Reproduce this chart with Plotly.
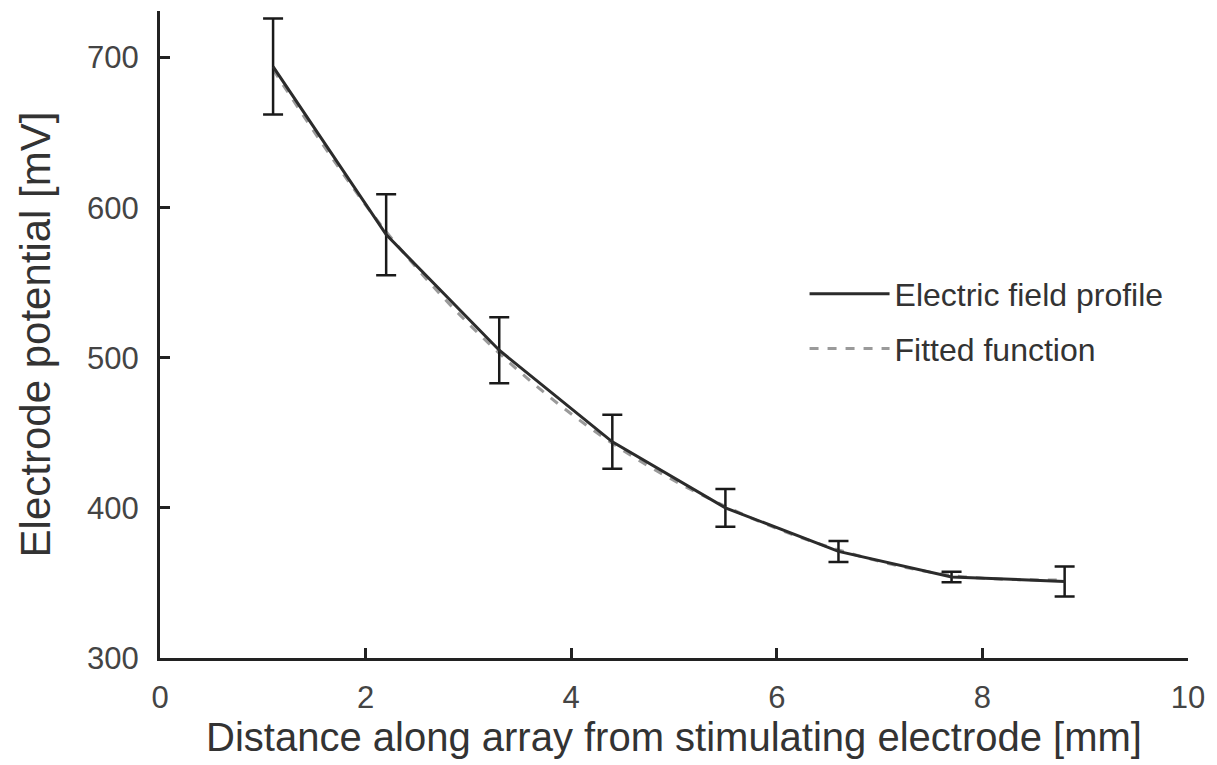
import plotly.graph_objects as go

distance_mm = [1.1, 2.2, 3.3, 4.4, 5.5, 6.6, 7.7, 8.8]
potential_mv = [694, 582, 505, 444, 400, 371, 354, 351]
error_mv = [32, 27, 22, 18, 12.5, 7, 3.5, 10]
fitted_mv = [692, 584, 503, 443, 401, 372, 355, 352]

x_ticks = [0, 2, 4, 6, 8, 10]
y_ticks = [300, 400, 500, 600, 700]

FONT = "Liberation Sans, Arial, sans-serif"

fig = go.Figure()

fig.add_trace(go.Scatter(
    x=distance_mm, y=fitted_mv, mode="lines", name="Fitted function",
    line=dict(color="#9a9a9a", width=3, dash="dash", shape="spline"),
    legendrank=2, legendgroup="b",
))
fig.add_trace(go.Scatter(
    x=distance_mm, y=potential_mv, mode="lines", name="Electric field profile",
    line=dict(color="#2b2b2b", width=3),
    error_y=dict(type="data", array=error_mv, visible=True, color="#1a1a1a",
                 thickness=2.5, width=10),
    legendrank=1, legendgroup="a",
))

fig.update_layout(
    width=1217, height=765,
    margin=dict(l=160, r=29, t=11, b=107),
    paper_bgcolor="white", plot_bgcolor="white",
    font=dict(family=FONT, color="#333333", size=32),
    showlegend=True,
    legend=dict(
        x=0.627, y=0.52, xanchor="left", yanchor="middle",
        font=dict(size=32, color="#333333"),
        bgcolor="rgba(0,0,0,0)", tracegroupgap=10, itemwidth=80,
        traceorder="grouped",
    ),
    xaxis=dict(
        range=[0, 10], tickvals=x_ticks, ticktext=[str(v) for v in x_ticks],
        showline=True, linecolor="#222222", linewidth=3,
        ticks="inside", ticklen=10, tickwidth=2.5, tickcolor="#222222",
        showgrid=False, zeroline=False,
        tickfont=dict(size=31, color="#444444"),
        title=dict(text="Distance along array from stimulating electrode [mm]",
                   font=dict(size=40, color="#333333"), standoff=0),
        ticklabelstandoff=10,
    ),
    yaxis=dict(
        range=[300, 731], tickvals=y_ticks, ticktext=[str(v) for v in y_ticks],
        showline=True, linecolor="#222222", linewidth=3,
        ticks="inside", ticklen=10, tickwidth=2.5, tickcolor="#222222",
        showgrid=False, zeroline=False,
        tickfont=dict(size=31, color="#444444"),
        title=dict(text="Electrode potential [mV]",
                   font=dict(size=42, color="#333333"), standoff=24),
        ticklabelstandoff=12,
    ),
)

fig.write_html("out.html")
